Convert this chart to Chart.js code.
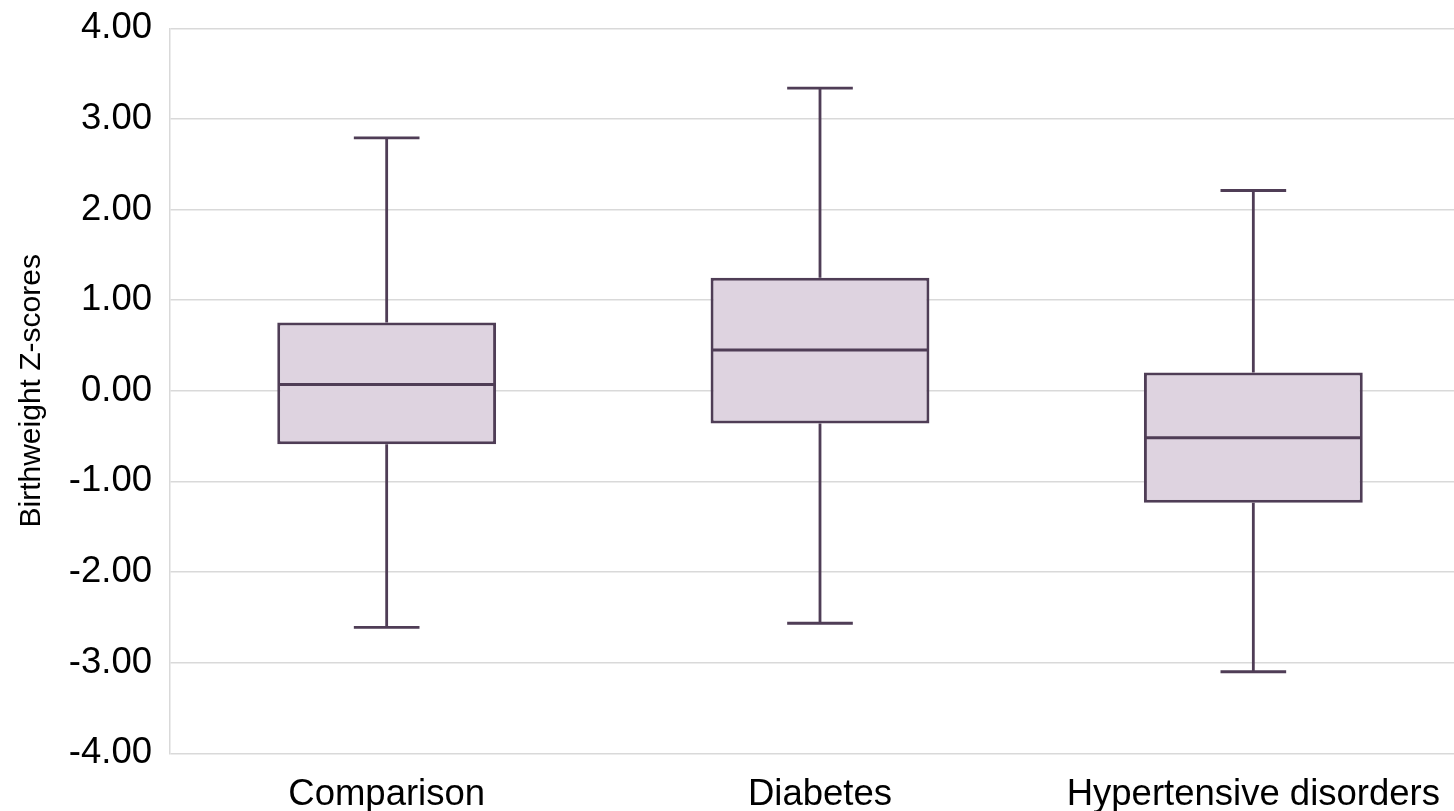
<!DOCTYPE html>
<html>
<head>
<meta charset="utf-8">
<script src="https://cdn.jsdelivr.net/npm/chart.js@4/dist/chart.umd.min.js"></script>
<style>
  html, body { margin: 0; padding: 0; background: #ffffff; overflow: hidden; width: 1454px; height: 811px; }
  #wrap { position: relative; width: 1470px; height: 811px; }
</style>
</head>
<body>
<div id="wrap"><canvas id="c"></canvas></div>
<script>
const categories = ["Comparison", "Diabetes", "Hypertensive disorders"];
const minValues    = [-2.61, -2.565, -3.10];
const q1Values     = [-0.59, -0.36, -1.236];
const medianValues = [0.07, 0.449, -0.519];
const q3Values     = [0.755, 1.247, 0.203];
const maxValues    = [2.79, 3.34, 2.21];
const yAxisTitle = "Birthweight Z-scores";

const boxFill = "#DED3E0";
const boxLine = "#4F3D56";
const gridColor = "#D9D9D9";

const boxData = categories.map((c, i) => [q1Values[i], q3Values[i]]);

const whiskerPlugin = {
  id: "whiskers",
  afterDatasetsDraw(chart) {
    const meta = chart.getDatasetMeta(0);
    const y = chart.scales.y;
    const ctx = chart.ctx;
    ctx.save();
    ctx.strokeStyle = boxLine;
    meta.data.forEach((bar, i) => {
      const x = bar.x;
      const w = bar.width;
      const left = x - w / 2, right = x + w / 2;
      const yMin = y.getPixelForValue(minValues[i]);
      const yMax = y.getPixelForValue(maxValues[i]);
      const yQ1 = y.getPixelForValue(q1Values[i]);
      const yQ3 = y.getPixelForValue(q3Values[i]);
      const yMed = y.getPixelForValue(medianValues[i]);
      const cap = w * 0.3;
      ctx.lineWidth = 2.8;
      ctx.beginPath();
      ctx.moveTo(x, yQ3); ctx.lineTo(x, yMax);
      ctx.moveTo(x - cap / 2, yMax); ctx.lineTo(x + cap / 2, yMax);
      ctx.moveTo(x, yQ1); ctx.lineTo(x, yMin);
      ctx.moveTo(x - cap / 2, yMin); ctx.lineTo(x + cap / 2, yMin);
      ctx.stroke();
      ctx.lineWidth = 3;
      ctx.beginPath();
      ctx.moveTo(left + 1, yMed); ctx.lineTo(right - 1, yMed);
      ctx.stroke();
    });
    ctx.restore();
  }
};

new Chart(document.getElementById("c"), {
  type: "bar",
  data: {
    labels: categories,
    datasets: [{
      data: boxData,
      backgroundColor: boxFill,
      borderColor: boxLine,
      borderWidth: 3,
      borderSkipped: false,
      categoryPercentage: 1.0,
      barPercentage: 0.505
    }]
  },
  options: {
    responsive: true,
    maintainAspectRatio: false,
    animation: false,
    devicePixelRatio: 1,
    layout: { padding: { top: 28.3, left: 0, right: 0, bottom: 0 } },
    plugins: { legend: { display: false }, tooltip: { enabled: false }, title: { display: false } },
    scales: {
      x: {
        grid: { display: false, drawTicks: false },
        border: { display: false },
        ticks: {
          color: "#000000",
          padding: 20,
          font: { family: "'Liberation Sans', Arial, sans-serif", size: 36.5 },
          maxRotation: 0, autoSkip: false
        },
        afterFit(scale) { scale.height = 57.7; scale.paddingLeft = 0; scale.paddingRight = 0; }
      },
      y: {
        min: -4, max: 4,
        grid: { color: gridColor, lineWidth: 1.5, drawTicks: false },
        border: { display: true, color: gridColor, width: 1.5 },
        ticks: {
          stepSize: 1,
          color: "#000000",
          padding: 18,
          font: { family: "'Liberation Sans', Arial, sans-serif", size: 36.5 },
          callback: (v) => Number(v).toFixed(2)
        },
        title: {
          display: true,
          text: yAxisTitle,
          color: "#000000",
          padding: { top: 14, bottom: 0 },
          font: { family: "'Liberation Sans', Arial, sans-serif", size: 30 }
        },
        afterFit(scale) { scale.width = 170; scale.paddingTop = 0; scale.paddingBottom = 0; }
      }
    }
  },
  plugins: [whiskerPlugin]
});
</script>
</body>
</html>
